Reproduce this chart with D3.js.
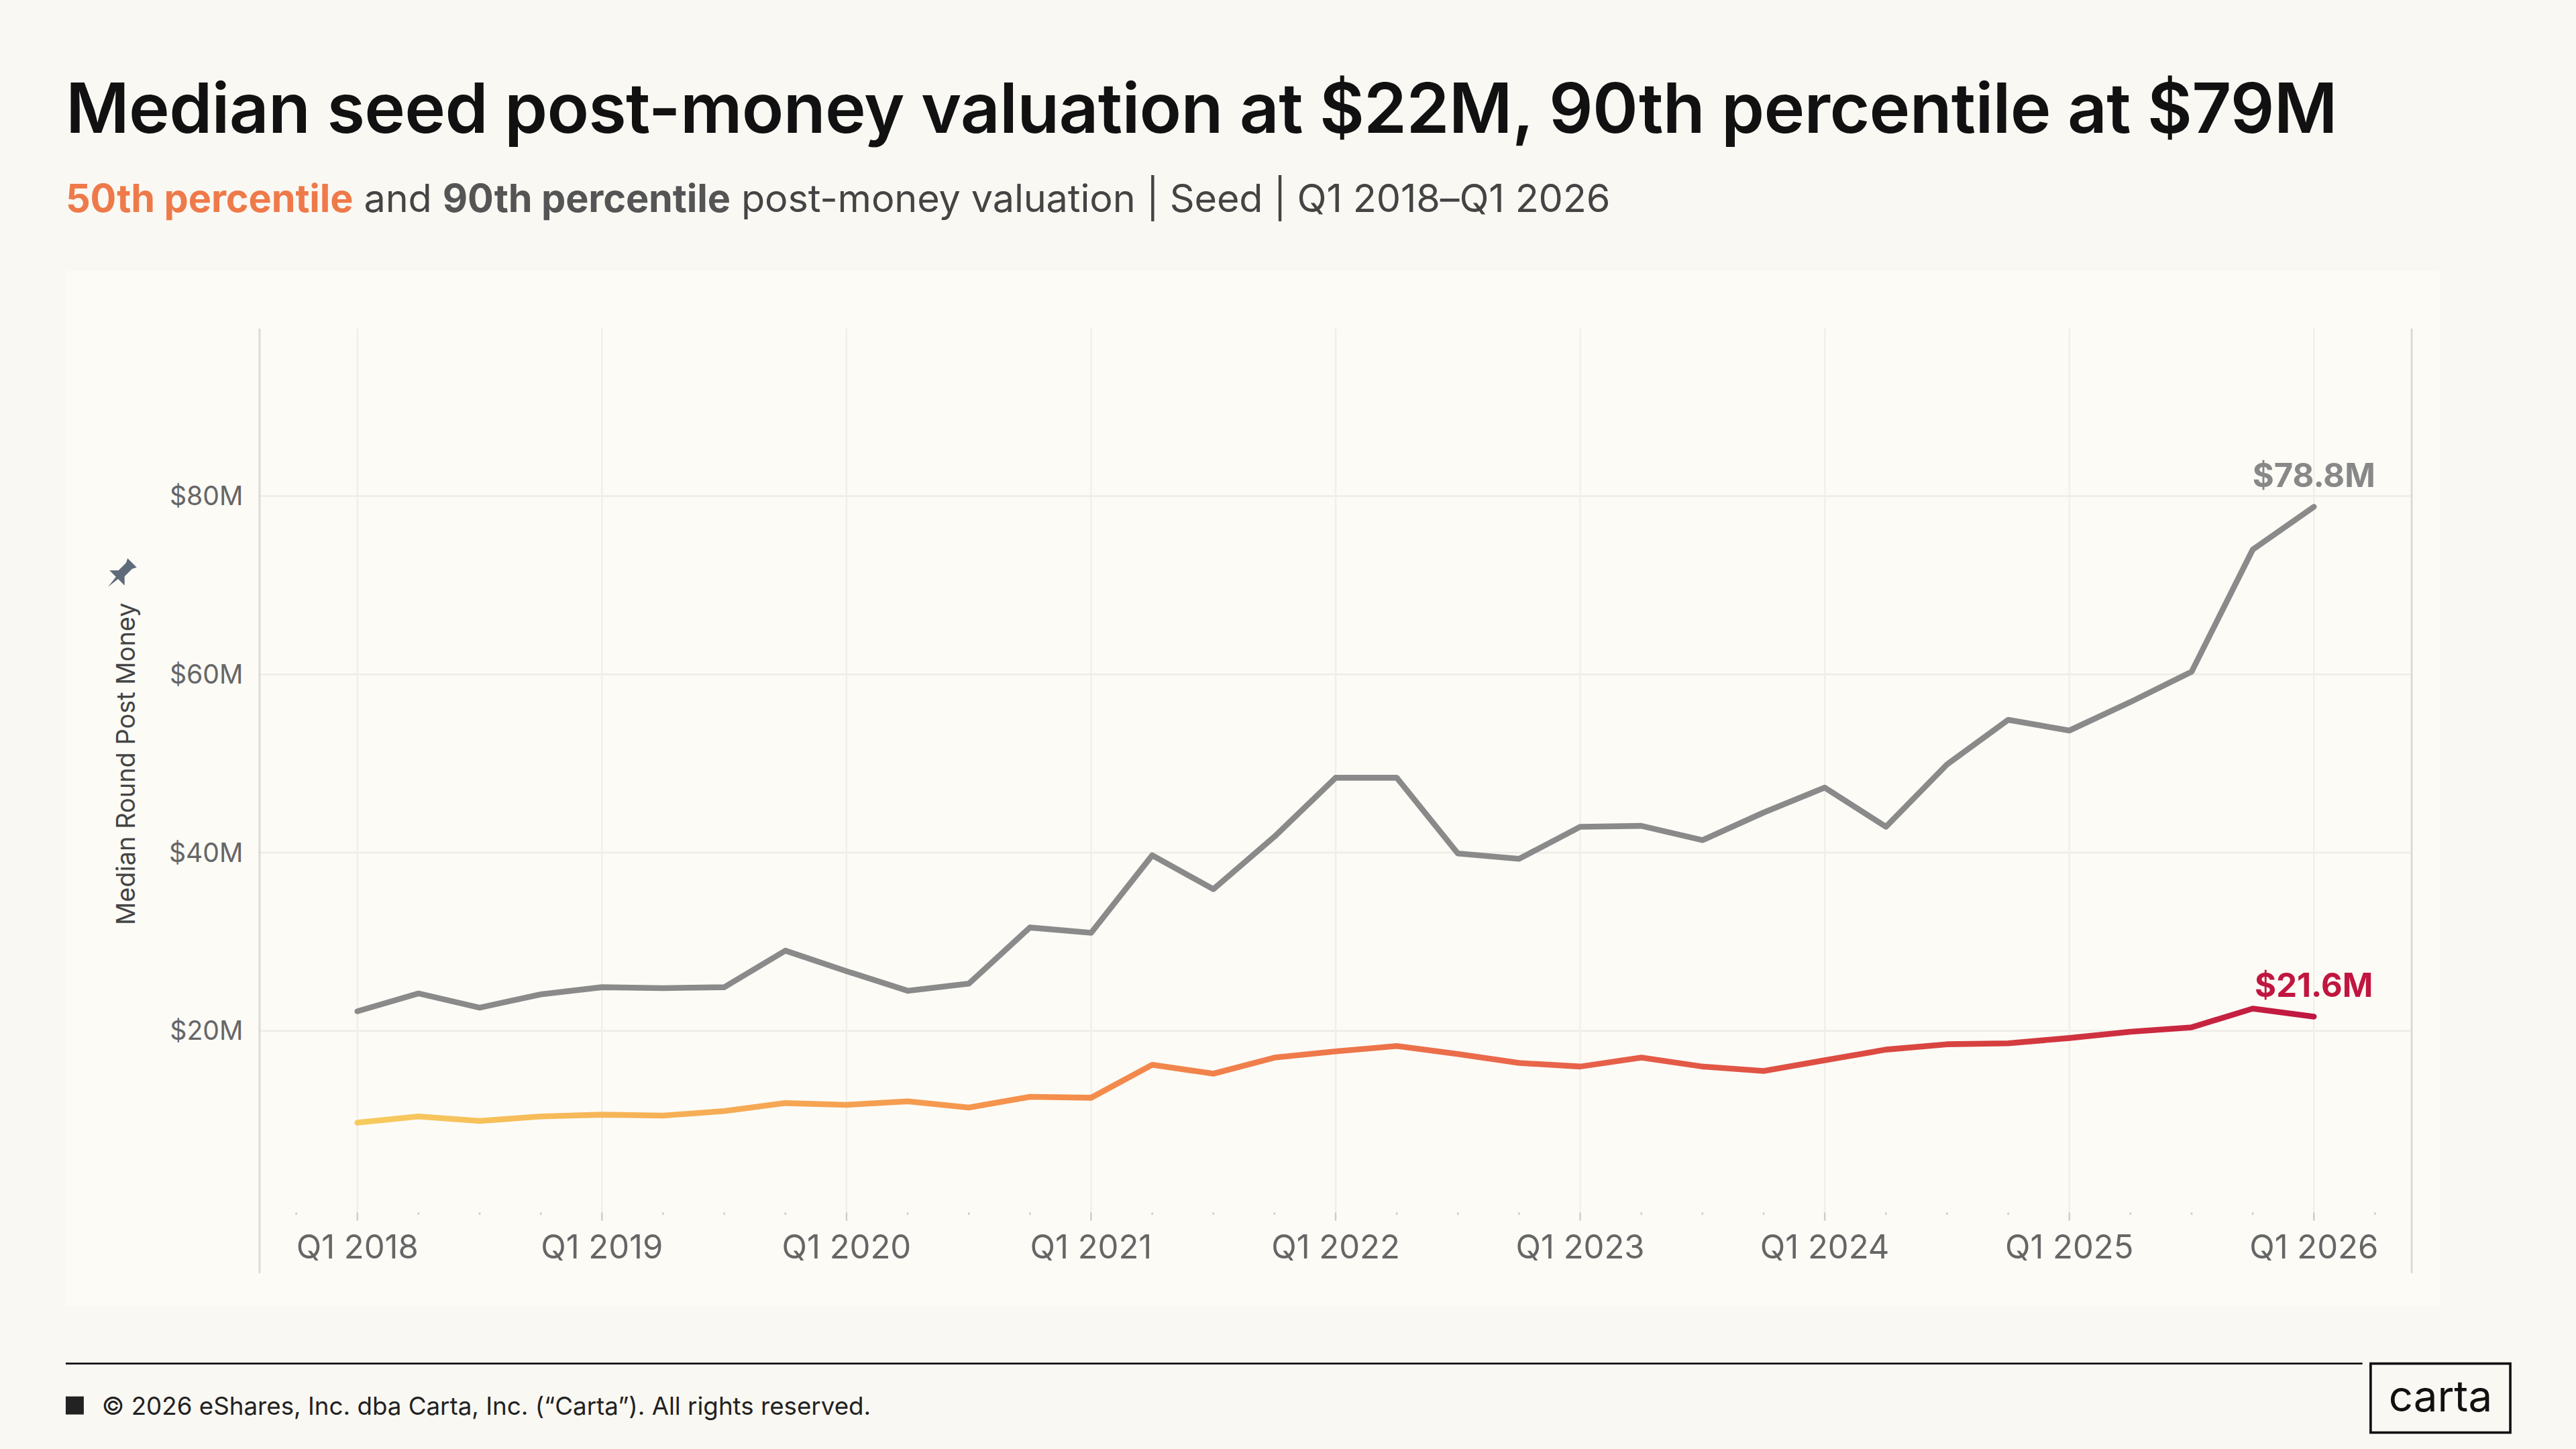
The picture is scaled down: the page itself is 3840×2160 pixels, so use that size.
<!DOCTYPE html>
<html>
<head>
<meta charset="utf-8">
<script src="https://cdn.jsdelivr.net/npm/d3@7"></script>
<style>
  html, body { margin: 0; padding: 0; background: #faf8f3; }
  svg { display: block; }
</style>
</head>
<body>
<svg id="chart" width="3840" height="2160" viewBox="0 0 1568 882"></svg>
<script>
// quarters Q1 2018 .. Q1 2026
const quarters = d3.range(33).map(i => "Q" + (i % 4 + 1) + " " + (2018 + Math.floor(i / 4)));
const p90 = [22.2, 24.2, 22.6, 24.1, 24.9, 24.8, 24.9, 29.0, 26.7, 24.5, 25.3, 31.6,
  31.0, 39.7, 35.9, 41.8, 48.4, 48.4, 39.9, 39.3, 42.9, 43.0, 41.4, 44.5,
  47.3, 42.9, 49.9, 54.9, 53.7, 56.9, 60.3, 74.0, 78.8];
const p50 = [9.7, 10.4, 9.9, 10.4, 10.6, 10.5, 11.0, 11.9, 11.7, 12.1, 11.4, 12.6,
  12.5, 16.2, 15.2, 17.0, 17.7, 18.3, 17.4, 16.4, 16.0, 17.0, 16.0, 15.5,
  16.7, 17.9, 18.5, 18.6, 19.2, 19.9, 20.4, 22.5, 21.6];
const yTicks = [20, 40, 60, 80];
const yearLabels = ["Q1 2018", "Q1 2019", "Q1 2020", "Q1 2021", "Q1 2022", "Q1 2023", "Q1 2024", "Q1 2025", "Q1 2026"];

const FONT = "Inter, 'Noto Sans', sans-serif";
const svg = d3.select("#chart").style("font-family", FONT);

const L = 158, R = 1468, T = 200, B = 738;
const x = d3.scaleLinear().domain([-1.6, 33.6]).range([L, R]);
const y = d3.scaleLinear().domain([0, 98.8]).range([736, T]);

// panel
svg.append("rect").attr("x", 40).attr("y", 165).attr("width", 1445).attr("height", 630).attr("fill", "#fcfbf6");

// title
svg.append("text").attr("x", 40).attr("y", 81).attr("font-size", 42).attr("font-weight", 600)
  .attr("fill", "#111").attr("letter-spacing", -0.3)
  .text("Median seed post-money valuation at $22M, 90th percentile at $79M");
const sub = svg.append("text").attr("x", 40).attr("y", 129).attr("font-size", 23.5)
  .attr("fill", "#444").attr("letter-spacing", -0.05);
sub.append("tspan").attr("font-weight", 700).attr("fill", "#ee7a4a").text("50th percentile");
sub.append("tspan").text(" and ");
sub.append("tspan").attr("font-weight", 700).attr("fill", "#555").text("90th percentile");
sub.append("tspan").text(" post-money valuation | Seed | Q1 2018–Q1 2026");

// grid
const g = svg.append("g");
g.selectAll(".hg").data(yTicks).join("line")
  .attr("x1", L).attr("x2", R).attr("y1", d => y(d)).attr("y2", d => y(d))
  .attr("stroke", "#eeece6").attr("stroke-width", 1);
const yearIdx = yearLabels.map(q => quarters.indexOf(q));
g.selectAll(".vg").data(yearIdx).join("line")
  .attr("x1", d => x(d)).attr("x2", d => x(d)).attr("y1", T).attr("y2", B)
  .attr("stroke", "#f1efea").attr("stroke-width", 1);

// frame lines
[L, R].forEach(v => g.append("line").attr("x1", v).attr("x2", v).attr("y1", T).attr("y2", 775)
  .attr("stroke", "#dcdad4").attr("stroke-width", 1.2));

// y axis labels
g.selectAll(".yl").data(yTicks).join("text")
  .attr("x", 148).attr("y", d => y(d)).attr("dy", "0.35em").attr("text-anchor", "end")
  .attr("font-size", 16).attr("fill", "#666").text(d => "$" + d + "M");

// y axis title + pin
svg.append("text").attr("transform", "translate(82,465) rotate(-90)")
  .attr("text-anchor", "middle").attr("font-size", 15.5).attr("fill", "#444")
  .text("Median Round Post Money");
svg.append("path").attr("transform", "translate(74,349) rotate(45) scale(1.3)")
  .attr("d", "M-3,-7 L3,-7 L2,-5 L2,0 L5,3 L-5,3 L-2,0 L-2,-5 Z M-0.7,3 L0.7,3 L0,9 Z")
  .attr("fill", "#5f6b7a");

// x axis minor ticks
g.selectAll(".mt").data(d3.range(-1, 34)).join("line")
  .attr("x1", d => x(d)).attr("x2", d => x(d)).attr("y1", B)
  .attr("y2", d => yearIdx.includes(d) ? B + 5 : B + 1.5)
  .attr("stroke", "#cfcdc7").attr("stroke-width", 1);
g.selectAll(".xl").data(yearIdx).join("text")
  .attr("x", d => x(d)).attr("y", 766).attr("text-anchor", "middle")
  .attr("font-size", 20).attr("fill", "#666").text(d => quarters[d]);

// lines
const line = d3.line().x((d, i) => x(i)).y(d => y(d));
const grad = svg.append("defs").append("linearGradient").attr("id", "og")
  .attr("gradientUnits", "userSpaceOnUse").attr("x1", x(0)).attr("x2", x(32)).attr("y1", 0).attr("y2", 0);
[[0, "#f7cb5e"], [0.35, "#f5904c"], [0.6, "#e9664a"], [0.82, "#d8423f"], [1, "#bf1640"]]
  .forEach(([o, c]) => grad.append("stop").attr("offset", o).attr("stop-color", c));

svg.append("path").datum(p90).attr("d", line).attr("fill", "none")
  .attr("stroke", "#8a8a8a").attr("stroke-width", 3.5).attr("stroke-linejoin", "round").attr("stroke-linecap", "round");
svg.append("path").datum(p50).attr("d", line).attr("fill", "none")
  .attr("stroke", "url(#og)").attr("stroke-width", 3.5).attr("stroke-linejoin", "round").attr("stroke-linecap", "round");

svg.append("text").attr("x", x(32)).attr("y", y(p90[32]) - 12).attr("text-anchor", "middle")
  .attr("font-size", 20).attr("font-weight", 700).attr("fill", "#888").text("$" + p90[32] + "M");
svg.append("text").attr("x", x(32)).attr("y", y(p50[32]) - 12).attr("text-anchor", "middle")
  .attr("font-size", 20).attr("font-weight", 700).attr("fill", "#c0163f").text("$" + p50[32] + "M");

// footer
svg.append("line").attr("x1", 40).attr("x2", 1438).attr("y1", 830).attr("y2", 830).attr("stroke", "#111").attr("stroke-width", 1.2);
svg.append("rect").attr("x", 40).attr("y", 850).attr("width", 11).attr("height", 11).attr("fill", "#222");
svg.append("text").attr("x", 62).attr("y", 861).attr("font-size", 15).attr("fill", "#222")
  .text("© 2026 eShares, Inc. dba Carta, Inc. (“Carta”). All rights reserved.");
svg.append("rect").attr("x", 1443).attr("y", 830).attr("width", 85).attr("height", 42)
  .attr("fill", "none").attr("stroke", "#111").attr("stroke-width", 1.5);
svg.append("text").attr("x", 1485.5).attr("y", 859).attr("text-anchor", "middle")
  .attr("font-size", 26).attr("fill", "#111").text("carta");
</script>
</body>
</html>
